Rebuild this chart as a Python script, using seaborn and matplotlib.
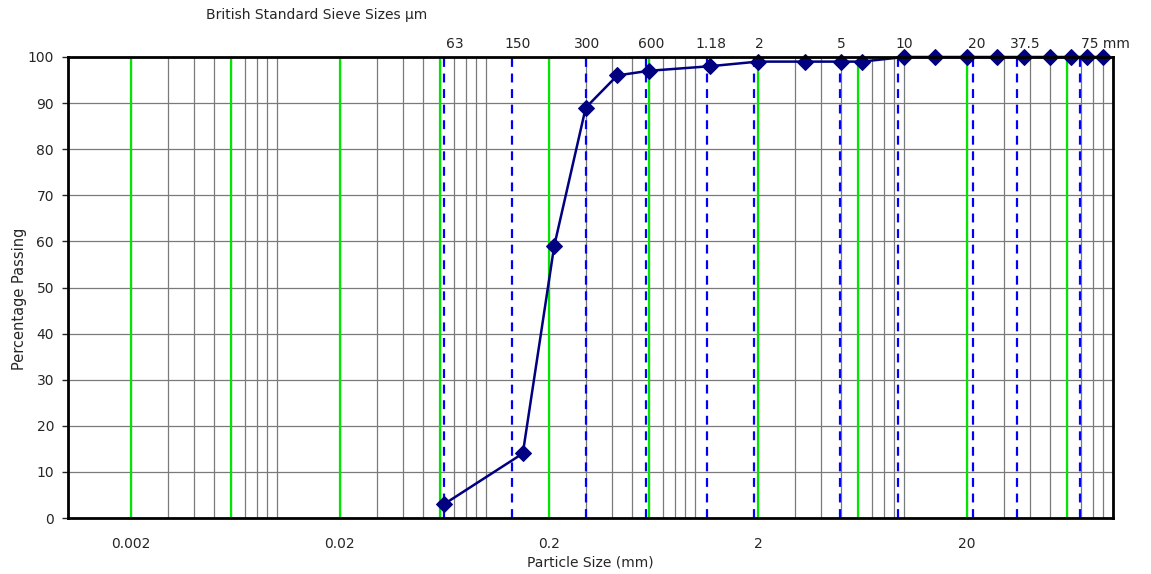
import matplotlib
matplotlib.use("Agg")
import matplotlib.pyplot as plt
import seaborn as sns
import pandas as pd
import numpy as np
from matplotlib.ticker import FixedLocator, LogLocator, NullFormatter

# sieve sizes (mm) and percentage passing
sizes = [0.063, 0.15, 0.212, 0.3, 0.425, 0.6, 1.18, 2, 3.35, 5, 6.3,
         10, 14, 20, 28, 37.5, 50, 63, 75, 90]
passing = [3, 14, 59, 89, 96, 97, 98, 99, 99, 99, 99,
           100, 100, 100, 100, 100, 100, 100, 100, 100]

# soil classification boundaries (green lines)
boundaries = [0.002, 0.006, 0.02, 0.06, 0.2, 0.6, 2, 6, 20, 60]

# British standard sieve markers (blue dashed) as drawn, and their labels
sieve_lines = [0.063, 0.133, 0.3, 0.583, 1.14, 1.91, 4.94, 9.35, 21.4, 34.8, 69.5]
sieve_vals = [0.063, 0.15, 0.3, 0.6, 1.18, 2, 5, 10, 20, 37.5, 75]
sieve_labels = ["63", "150", "300", "600", "1.18", "2", "5", "10", "20", "37.5", "75 mm"]
label_shift = [8, -4, 1, 2, 1, 1, 0, 0, 7, 1, -4]  # points

x_ticks = [0.002, 0.02, 0.2, 2, 20]
x_ticklabels = ["0.002", "0.02", "0.2", "2", "20"]
y_ticks = list(range(0, 101, 10))

sns.set_style("white")
plt.rcParams['font.family'] = ['DejaVu Sans']
plt.rcParams['font.size'] = 10

fig = plt.figure(figsize=(11.51, 5.74), dpi=100)
ax = fig.add_axes([68/1151, 1-518/574, (1113-68)/1151, (518-57)/574])

df = pd.DataFrame({"size": sizes, "passing": passing})

ax.set_xscale("log")
ax.set_xlim(0.001, 100)
ax.set_ylim(0, 100)

# gridlines
ax.xaxis.set_major_locator(FixedLocator(x_ticks))
ax.xaxis.set_minor_locator(LogLocator(base=10, subs=np.arange(1, 10), numticks=20))
ax.xaxis.set_minor_formatter(NullFormatter())
ax.set_xticklabels(x_ticklabels)
ax.set_yticks(y_ticks)
ax.grid(which="both", axis="x", color="#7a7a7a", lw=0.9, zorder=0)
ax.grid(which="major", axis="y", color="#7a7a7a", lw=0.9, zorder=0)
ax.set_axisbelow(True)

for b in boundaries:
    ax.axvline(b, color="#00e600", lw=1.6, zorder=2)
for s in sieve_lines:
    ax.axvline(s, color="#0000ff", lw=1.6, ls=(0, (4, 3)), zorder=3)

sns.lineplot(data=df, x="size", y="passing", ax=ax, color="#000080", lw=1.8,
             marker="D", markersize=8.5, markeredgecolor="#000080",
             sort=False, zorder=5, clip_on=False)

for v, lab, dx in zip(sieve_vals, sieve_labels, label_shift):
    ha = "left" if lab.endswith("mm") else "center"
    ax.annotate(lab, xy=(v, 1), xycoords=("data", "axes fraction"),
                xytext=(dx, 4), textcoords="offset points",
                ha=ha, va="bottom", fontsize=10)

fig.text(317/1151, 1-15/574, "British Standard Sieve Sizes µm",
         ha="center", va="center", fontsize=10)

ax.tick_params(axis="x", which="both", length=0, pad=14, labelsize=10)
ax.tick_params(axis="y", length=4, width=1, direction="out", labelsize=10, pad=6, left=True)
ax.set_xlabel("Particle Size (mm)", fontsize=10, labelpad=3)
ax.set_ylabel("Percentage Passing", fontsize=10.5)
ax.yaxis.set_label_coords(-0.039, 0.475)

for sp in ax.spines.values():
    sp.set_color("black")
    sp.set_linewidth(2)
    sp.set_zorder(6)

fig.savefig("out.png", dpi=100)
